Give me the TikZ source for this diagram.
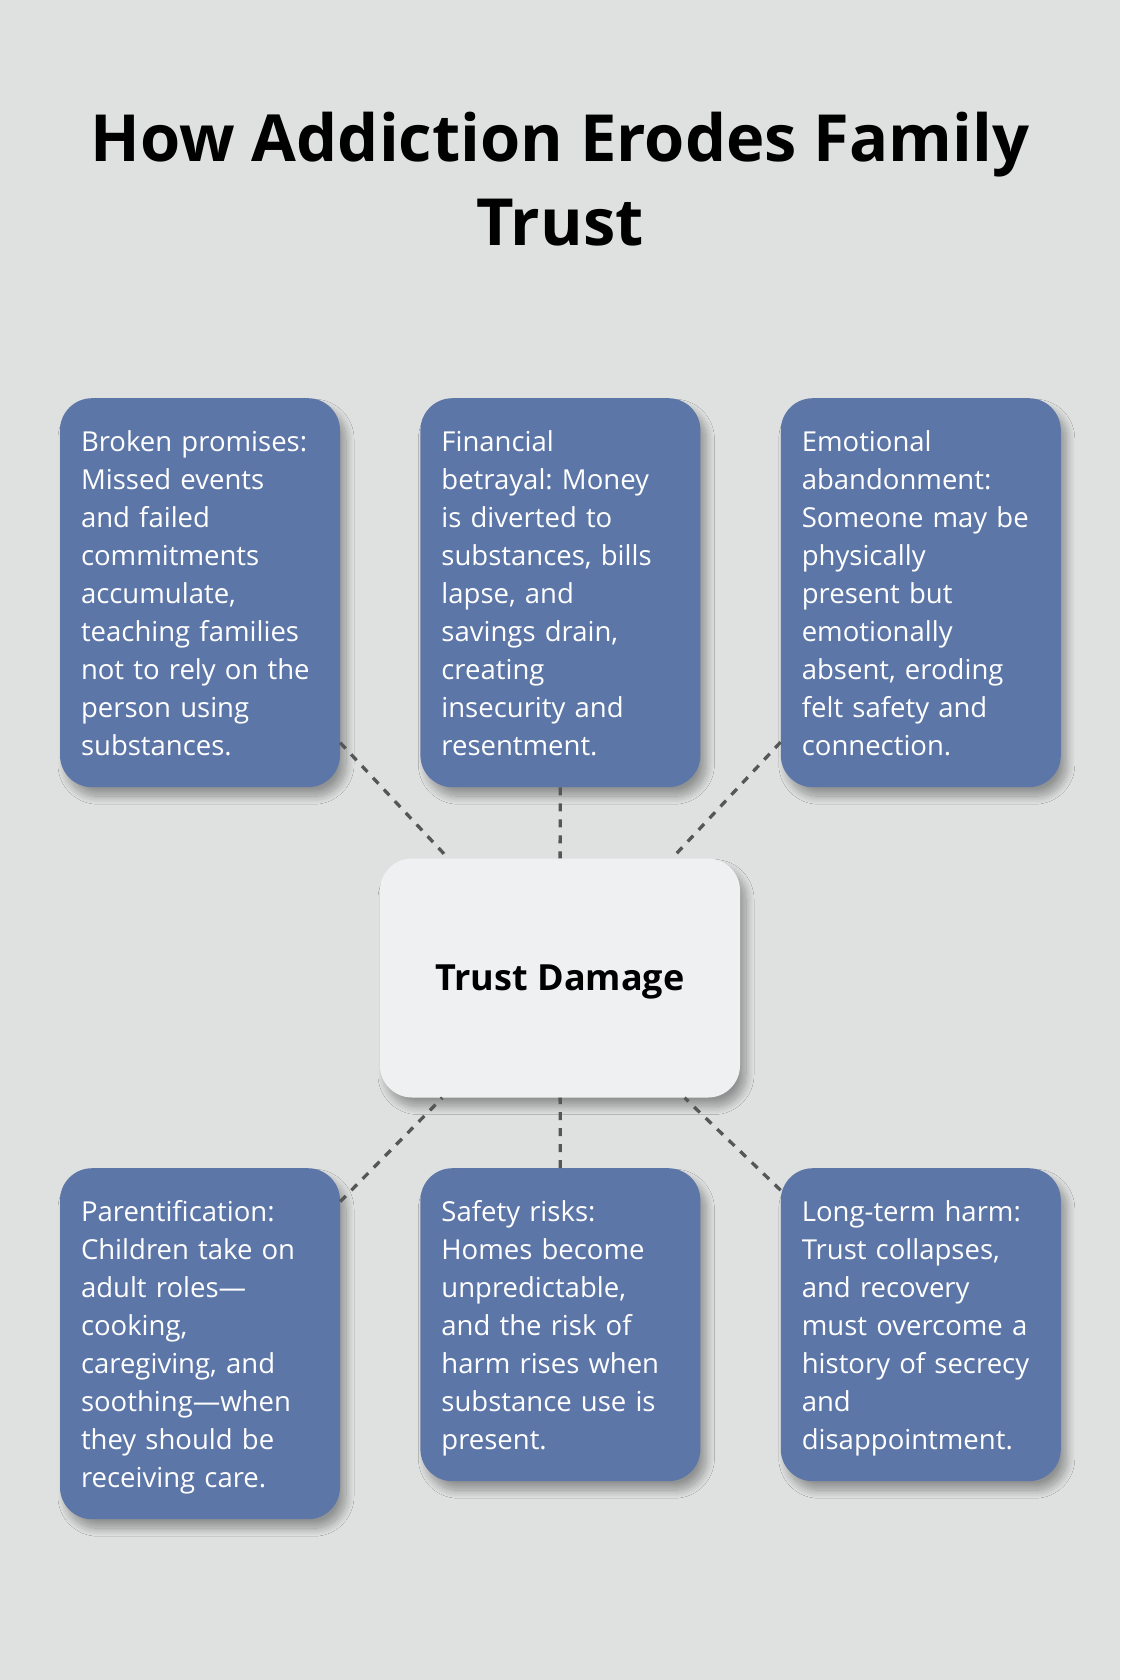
\documentclass[tikz,border=0pt]{standalone}
\usepackage{fontspec}
\setmainfont{Open Sans}
\usetikzlibrary{positioning, shadows.blur}
\definecolor{pagebg}{HTML}{DFE1E1}
\definecolor{cardblue}{HTML}{5D76A8}
\definecolor{hubfill}{HTML}{EFF0F2}
\definecolor{linkgray}{HTML}{555657}
\frenchspacing

\begin{document}
\begin{tikzpicture}[
    x=1pt, y=-1pt, node distance=80pt,
    softshadow/.style={blur shadow={shadow xshift=6pt, shadow yshift=-9pt,
        shadow blur radius=8pt, shadow blur steps=16, shadow opacity=35}},
    card/.style={fill=cardblue, text=white, rounded corners=32pt,
      text width=238pt, align=left, inner xsep=21pt, inner ysep=23.25pt,
      font=\fontsize{27.5}{38}\selectfont, anchor=north,
      execute at begin node=\rule{0pt}{30.5pt},
      execute at end node=\rule[-8pt]{0pt}{8pt}, softshadow},
    link/.style={draw=linkgray, line width=3.3pt, dash pattern=on 8pt off 8pt}
  ]
  \fill[pagebg] (0,0) rectangle (1120,1680);
  \useasboundingbox (0,0) rectangle (1120,1680);

  \node[font=\bfseries\fontsize{65}{84}\selectfont, align=center,
        anchor=north, inner sep=0pt, execute at begin node=\strut]
        (title) at (560,112) {How Addiction Erodes Family\\Trust};

  % top row
  \node[card] (promises) at (200,398)
    {Broken promises:\\Missed events\\and failed\\commitments\\accumulate,\\teaching families\\not to rely on the\\person using\\substances.};
  \node[card, right=of promises.north east, anchor=north west] (money)
    {Financial\\betrayal: Money\\is diverted to\\substances, bills\\lapse, and\\savings drain,\\creating\\insecurity and\\resentment.};
  \node[card, right=of money.north east, anchor=north west] (absent)
    {Emotional\\abandonment:\\Someone may be\\physically\\present but\\emotionally\\absent, eroding\\felt safety and\\connection.};

  % bottom row
  \node[card] (roles) at (200,1168)
    {Parentification:\\Children take on\\adult roles—\\cooking,\\caregiving, and\\soothing—when\\they should be\\receiving care.};
  \node[card, right=of roles.north east, anchor=north west] (safety)
    {Safety risks:\\Homes become\\unpredictable,\\and the risk of\\harm rises when\\substance use is\\present.};
  \node[card, right=of safety.north east, anchor=north west] (harm)
    {Long-term harm:\\Trust collapses,\\and recovery\\must overcome a\\history of secrecy\\and\\disappointment.};

  \node[fill=hubfill, rounded corners=32pt, minimum width=360pt,
        minimum height=239pt, text depth=0pt,
        font=\bfseries\fontsize{36}{40}\selectfont, softshadow]
        (hub) at (560,978) {Trust Damage};

  \draw[link] (promises) -- (hub);
  \draw[link] (money) -- (hub);
  \draw[link] (absent) -- (hub);
  \draw[link] (roles) -- (hub);
  \draw[link] (safety) -- (hub);
  \draw[link] (harm) -- (hub);
\end{tikzpicture}
\end{document}
